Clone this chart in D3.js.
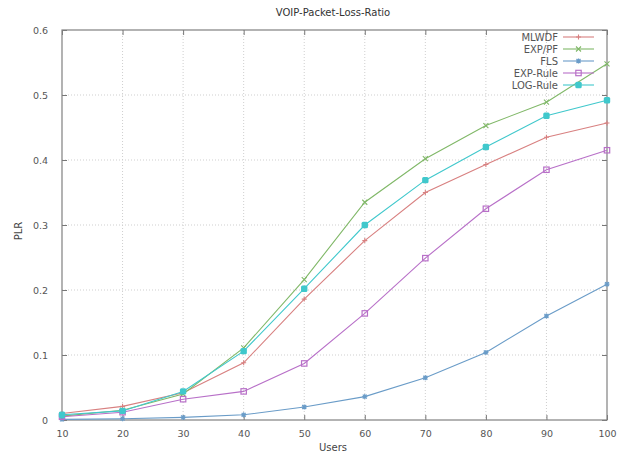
<!DOCTYPE html>
<html>
<head>
<meta charset="utf-8">
<script src="https://cdn.jsdelivr.net/npm/d3@7"></script>
<style>
body { margin: 0; background: #fff; }
text { font-family: "DejaVu Sans", sans-serif; }
</style>
</head>
<body>
<svg id="chart" width="618" height="457"></svg>
<script>
const users = [10, 20, 30, 40, 50, 60, 70, 80, 90, 100];
const mlwdf = [0.010, 0.021, 0.042, 0.088, 0.186, 0.276, 0.350, 0.393, 0.435, 0.457];
const exppf = [0.006, 0.015, 0.040, 0.111, 0.216, 0.335, 0.402, 0.453, 0.489, 0.548];
const fls = [0.001, 0.002, 0.004, 0.008, 0.020, 0.036, 0.065, 0.104, 0.160, 0.209];
const expRule = [0.005, 0.012, 0.032, 0.044, 0.087, 0.164, 0.249, 0.325, 0.385, 0.415];
const logRule = [0.008, 0.014, 0.044, 0.106, 0.202, 0.300, 0.369, 0.420, 0.468, 0.492];
const yTicks = [0, 0.1, 0.2, 0.3, 0.4, 0.5, 0.6];

const series = [
	{ name: "MLWDF", values: mlwdf, color: "#d88080", marker: "plus" },
	{ name: "EXP/PF", values: exppf, color: "#80b868", marker: "cross" },
	{ name: "FLS", values: fls, color: "#6a9cc8", marker: "star" },
	{ name: "EXP-Rule", values: expRule, color: "#b870c8", marker: "square" },
	{ name: "LOG-Rule", values: logRule, color: "#40c8cc", marker: "fsquare" },
];

const svg = d3.select("#chart");
const m = { left: 62, right: 607, top: 30, bottom: 420 };

const x = d3.scaleLinear().domain([10, 100]).range([m.left, m.right]);
const y = d3.scaleLinear().domain([0, 0.6]).range([m.bottom, m.top]);

// grid
const grid = svg.append("g").attr("stroke", "#cfcfcf").attr("stroke-dasharray", "1,2").attr("stroke-width", 1);
users.slice(1, -1).forEach((u) => {
	grid.append("line").attr("x1", x(u)).attr("x2", x(u)).attr("y1", m.top).attr("y2", m.bottom);
});
yTicks.slice(1, -1).forEach((v) => {
	grid.append("line").attr("x1", m.left).attr("x2", m.right).attr("y1", y(v)).attr("y2", y(v));
});

// axes (ticks inward, mirrored)
const tickFmt = (d) => (d === 0 ? "0" : d3.format("")(+d.toFixed(1)));
svg.append("g")
	.attr("transform", `translate(0,${m.bottom})`)
	.call(d3.axisBottom(x).tickValues(users).tickSize(-5).tickPadding(10))
	.call((g) => g.select(".domain").remove());
svg.append("g")
	.attr("transform", `translate(0,${m.top})`)
	.call(d3.axisTop(x).tickValues(users).tickSize(-5).tickFormat(""))
	.call((g) => g.select(".domain").remove());
svg.append("g")
	.attr("transform", `translate(${m.left},0)`)
	.call(d3.axisLeft(y).tickValues(yTicks).tickSize(-5).tickPadding(14).tickFormat(tickFmt))
	.call((g) => g.select(".domain").remove());
svg.append("g")
	.attr("transform", `translate(${m.right},0)`)
	.call(d3.axisRight(y).tickValues(yTicks).tickSize(-5).tickFormat(""))
	.call((g) => g.select(".domain").remove());

svg.selectAll(".tick line").attr("stroke", "#777");
svg.selectAll(".tick text").attr("fill", "#555").style("font-size", "9.5px");

svg.append("rect")
	.attr("x", m.left).attr("y", m.top)
	.attr("width", m.right - m.left).attr("height", m.bottom - m.top)
	.attr("fill", "none").attr("stroke", "#808080").attr("stroke-width", 1.2);

// markers
function drawMarker(g, type, cx, cy, color) {
	const s = 2.5;
	if (type === "plus") {
		g.append("path").attr("d", `M${cx - s},${cy}H${cx + s}M${cx},${cy - s}V${cy + s}`).attr("stroke", color).attr("stroke-width", 1.1);
	} else if (type === "cross") {
		g.append("path").attr("d", `M${cx - s},${cy - s}L${cx + s},${cy + s}M${cx - s},${cy + s}L${cx + s},${cy - s}`).attr("stroke", color).attr("stroke-width", 1.1);
	} else if (type === "star") {
		g.append("path").attr("d", `M${cx - s},${cy}H${cx + s}M${cx},${cy - s}V${cy + s}M${cx - 2},${cy - 2}L${cx + 2},${cy + 2}M${cx - 2},${cy + 2}L${cx + 2},${cy - 2}`).attr("stroke", color).attr("stroke-width", 1.2);
	} else if (type === "square") {
		g.append("rect").attr("x", cx - 2.7).attr("y", cy - 2.7).attr("width", 5.4).attr("height", 5.4).attr("fill", "none").attr("stroke", color).attr("stroke-width", 1.2);
	} else {
		g.append("rect").attr("x", cx - 3.2).attr("y", cy - 3.2).attr("width", 6.4).attr("height", 6.4).attr("rx", 1.5).attr("fill", color);
	}
}

const line = d3.line().x((d, i) => x(users[i])).y((d) => y(d));
series.forEach((s) => {
	const g = svg.append("g");
	g.append("path").datum(s.values).attr("d", line).attr("fill", "none").attr("stroke", s.color).attr("stroke-width", 1.1);
	s.values.forEach((v, i) => drawMarker(g, s.marker, x(users[i]), y(v), s.color));
});

// legend
series.forEach((s, i) => {
	const ly = 37 + i * 12;
	svg.append("text").attr("x", 558).attr("y", ly + 3.5).attr("text-anchor", "end")
		.style("font-size", "10px").attr("fill", "#555").text(s.name);
	svg.append("line").attr("x1", 563).attr("x2", 594).attr("y1", ly).attr("y2", ly)
		.attr("stroke", s.color).attr("stroke-width", 1.1);
	drawMarker(svg, s.marker, 578.5, ly, s.color);
});

// titles
svg.append("text").attr("x", 333).attr("y", 16).attr("text-anchor", "middle")
	.style("font-size", "10px").attr("fill", "#333").text("VOIP-Packet-Loss-Ratio");
svg.append("text").attr("x", 333).attr("y", 451).attr("text-anchor", "middle")
	.style("font-size", "10px").attr("fill", "#444").text("Users");
svg.append("text").attr("transform", "translate(22,231) rotate(-90)").attr("text-anchor", "middle")
	.style("font-size", "10px").attr("fill", "#444").text("PLR");
</script>
</body>
</html>
